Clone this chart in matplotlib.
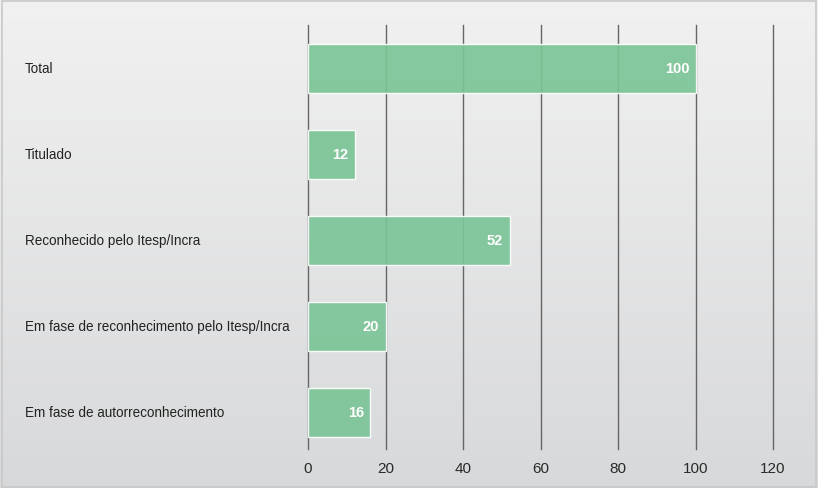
import numpy as np
import matplotlib.pyplot as plt

categories = ['Total', 'Titulado', 'Reconhecido pelo Itesp/Incra',
              'Em fase de reconhecimento pelo Itesp/Incra',
              'Em fase de autorreconhecimento']
values = [100, 12, 52, 20, 16]
xticks = [0, 20, 40, 60, 80, 100, 120]

plt.rcParams['font.family'] = ['Liberation Sans', 'DejaVu Sans']

W, H = 818, 489
fig = plt.figure(figsize=(W / 100, H / 100), dpi=100)

# background gradient
bg = fig.add_axes([0, 0, 1, 1], zorder=-10)
grad = np.linspace(0, 1, 256).reshape(-1, 1)
top = np.array([0.945, 0.945, 0.945])
bot = np.array([0.845, 0.849, 0.855])
img = top + (bot - top) * grad[..., None]
bg.imshow(img, aspect='auto', extent=[0, 1, 0, 1])
bg.add_patch(plt.Rectangle((0.002, 0.003), 0.995, 0.993, fill=False,
                           edgecolor='#c8c8c8', lw=1.2, transform=bg.transAxes))
bg.axis('off')

x0, x1 = 308 / W, 773 / W
y_top, y_bot = 26 / H, 450 / H
ax = fig.add_axes([x0, 1 - y_bot, x1 - x0, y_bot - y_top])
ax.patch.set_alpha(0)

y = np.arange(len(categories))
ax.set_xlim(0, 120)
ax.set_ylim(len(categories) - 1 + 0.43, -0.505)
for t in xticks:
    ax.axvline(t, color='#666666', lw=1.0, zorder=1, clip_on=False)
ax.barh(y, values, height=0.57, color='#7cc497', alpha=0.92,
        edgecolor='white', linewidth=1, zorder=2)

for s in ax.spines.values():
    s.set_visible(False)
ax.set_yticks([])
ax.set_xticks(xticks)
ax.tick_params(axis='x', length=0, pad=9)
ax.set_xticklabels([str(t) for t in xticks], fontsize=11, color='#2a2a2a')

# fit the category font so the longest label spans ~262 px like the reference
renderer = fig.canvas.get_renderer()
probe = fig.text(0, 0, categories[3], fontsize=11)
wpx = probe.get_window_extent(renderer).width
probe.remove()
fs = min(11.5, 11 * 264 / wpx)

for yi, v in zip(y, values):
    ax.text(v - 1.6, yi, str(v), ha='right', va='center', color='white',
            fontsize=10.5, fontweight='bold', zorder=3)
for yi, c in zip(y, categories):
    yd = ax.transData.transform((0, yi))[1]
    fig.text(25 / W, yd / H, c, fontsize=fs, color='#222222',
             va='center', ha='left')

fig.savefig('out.png', dpi=100)
